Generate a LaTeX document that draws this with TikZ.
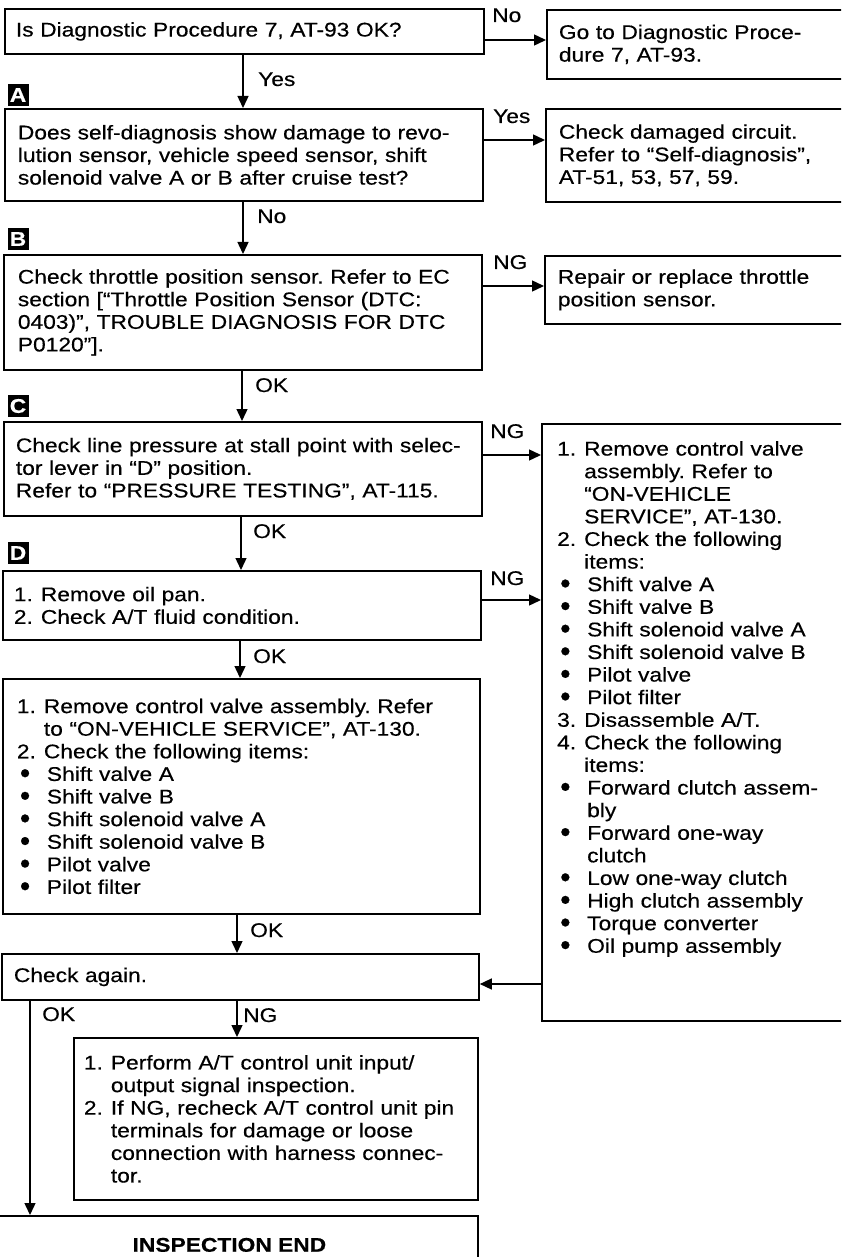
\documentclass[tikz,border=0pt]{standalone}
\usepackage{fontspec}
\usepackage{graphicx}
\setmainfont{Liberation Sans}[FakeStretch=1.15,FakeBold=0.4]
\usetikzlibrary{arrows.meta}
\frenchspacing
\newcommand\fs{\fontsize{19.8pt}{22.6pt}\selectfont}
\newcommand\lnum[1]{\makebox[27pt][l]{#1}}
\newcommand\lind{\hspace*{27pt}}
\newcommand\lbul{\makebox[30pt][l]{\hspace{3pt}\smash{\raisebox{-2.2pt}{\scalebox{1.3}[1.5]{\textbullet}}}}}
\newcommand\lbind{\hspace*{30pt}}
\begin{document}
\begin{tikzpicture}[x=1pt,y=-1pt,
  bx/.style={draw, line width=1.8pt, inner ysep=0pt, align=left, anchor=north west, font=\fs},
  arr/.style={line width=1.4pt, -{Triangle[length=12pt,width=11pt]}},
  lbl/.style={anchor=base west, inner sep=0pt, font=\fs},
  lettbox/.style={fill=black, text=white, font=\fs\bfseries, minimum width=21pt, minimum height=22pt, inner sep=0pt}]
\useasboundingbox (0,0) rectangle (841,1257);
\clip (0,0) rectangle (841,1257);
\fill[white] (0,0) rectangle (841,1257);

% left column
\node[bx, inner xsep=11pt, minimum width=479pt, minimum height=45pt, text width=457pt] (q1) at (4,8)
  {Is Diagnostic Procedure 7, AT-93 OK?};
\node[bx, inner xsep=12pt, minimum width=296pt, minimum height=69pt, text width=272pt] (r1) at (546,9)
  {Go to Diagnostic Proce-\\dure 7, AT-93.};

\node[lettbox] (mA) at (18,95) {A};
\node[bx, inner xsep=13pt, minimum width=478pt, minimum height=92pt, text width=452pt] (qA) at (4,108)
  {Does self-diagnosis show damage to revo-\\lution sensor, vehicle speed sensor, shift\\solenoid valve A or B after cruise test?};
\node[bx, inner xsep=13pt, minimum width=297pt, minimum height=93pt, text width=271pt] (rA) at (545,108)
  {Check damaged circuit.\\Refer to “Self-diagnosis”,\\AT-51, 53, 57, 59.};

\node[lettbox] (mB) at (18,239) {B};
\node[bx, inner xsep=14pt, minimum width=478pt, minimum height=115pt, text width=450pt] (qB) at (3,254)
  {Check throttle position sensor. Refer to EC\\section [“Throttle Position Sensor (DTC:\\0403)”, TROUBLE DIAGNOSIS FOR DTC\\P0120”].};
\node[bx, inner xsep=13pt, minimum width=298pt, minimum height=68pt, text width=272pt] (rB) at (544,255)
  {Repair or replace throttle\\position sensor.};

\node[lettbox] (mC) at (18,406) {C};
\node[bx, inner xsep=12pt, minimum width=478pt, minimum height=94pt, text width=454pt] (qC) at (3,421)
  {Check line pressure at stall point with selec-\\tor lever in “D” position.\\Refer to “PRESSURE TESTING”, AT-115.};

\node[bx, minimum width=301pt, minimum height=597pt] (R) at (541,423) {};
\node[anchor=north west, align=left, font=\fs, inner sep=0pt, text width=275pt] (Rt) at (557,441)
  {\lnum{1.}Remove control valve\\
   \lind assembly. Refer to\\
   \lind “ON-VEHICLE\\
   \lind SERVICE”, AT-130.\\
   \lnum{2.}Check the following\\
   \lind items:\\
   \lbul Shift valve A\\
   \lbul Shift valve B\\
   \lbul Shift solenoid valve A\\
   \lbul Shift solenoid valve B\\
   \lbul Pilot valve\\
   \lbul Pilot filter\\
   \lnum{3.}Disassemble A/T.\\
   \lnum{4.}Check the following\\
   \lind items:\\
   \lbul Forward clutch assem-\\
   \lbind bly\\
   \lbul Forward one-way\\
   \lbind clutch\\
   \lbul Low one-way clutch\\
   \lbul High clutch assembly\\
   \lbul Torque converter\\
   \lbul Oil pump assembly};

\node[lettbox] (mD) at (18,553) {D};
\node[bx, inner xsep=11pt, minimum width=478pt, minimum height=69pt, text width=456pt] (qD) at (2,570)
  {\lnum{1.}Remove oil pan.\\\lnum{2.}Check A/T fluid condition.};

\node[bx, inner xsep=14pt, minimum width=477pt, minimum height=235pt, text width=449pt] (qE) at (2,678)
  {\lnum{1.}Remove control valve assembly. Refer\\
   \lind to “ON-VEHICLE SERVICE”, AT-130.\\
   \lnum{2.}Check the following items:\\
   \lbul Shift valve A\\
   \lbul Shift valve B\\
   \lbul Shift solenoid valve A\\
   \lbul Shift solenoid valve B\\
   \lbul Pilot valve\\
   \lbul Pilot filter};

\node[bx, inner xsep=12pt, minimum width=477pt, minimum height=46pt, text width=453pt] (qF) at (1,953)
  {Check again.};

\node[bx, inner xsep=10pt, minimum width=404pt, minimum height=162pt, text width=384pt] (qG) at (73,1037)
  {\lnum{1.}Perform A/T control unit input/\\
   \lind output signal inspection.\\
   \lnum{2.}If NG, recheck A/T control unit pin\\
   \lind terminals for damage or loose\\
   \lind connection with harness connec-\\
   \lind tor.};

\node[bx, align=center, font=\fs\bfseries, minimum width=497pt, minimum height=58pt] (qEnd) at (-20,1215)
  {INSPECTION END};

% connectors
\draw[arr] (q1.east |- 0,40) -- (r1.west |- 0,40);
\node[lbl] (lNo1) at (492,22) {No};
\draw[arr] (q1.south -| 243,0) -- (qA.north -| 243,0);
\node[lbl] (lYes1) at (258,86) {Yes};

\draw[arr] (qA.east |- 0,140) -- (rA.west |- 0,140);
\node[lbl] (lYes2) at (493,123) {Yes};
\draw[arr] (qA.south -| 243,0) -- (qB.north -| 243,0);
\node[lbl] (lNo2) at (257,223) {No};

\draw[arr] (qB.east |- 0,286) -- (rB.west |- 0,286);
\node[lbl] (lNG1) at (493,269) {NG};
\draw[arr] (qB.south -| 242,0) -- (qC.north -| 242,0);
\node[lbl] (lOK1) at (255,392) {OK};

\draw[arr] (qC.east |- 0,455) -- (R.west |- 0,455);
\node[lbl] (lNG2) at (490,438) {NG};
\draw[arr] (qC.south -| 241,0) -- (qD.north -| 241,0);
\node[lbl] (lOK2) at (253,538) {OK};

\draw[arr] (qD.east |- 0,600) -- (R.west |- 0,600);
\node[lbl] (lNG3) at (490,585) {NG};
\draw[arr] (qD.south -| 240,0) -- (qE.north -| 240,0);
\node[lbl] (lOK3) at (253,663) {OK};

\draw[arr] (qE.south -| 237,0) -- (qF.north -| 237,0);
\node[lbl] (lOK4) at (250,937) {OK};

\draw[arr] (R.west |- 0,984) -- (qF.east |- 0,984);

\draw[arr] (qF.south -| 30,0) -- (qEnd.north -| 30,0);
\node[lbl] (lOK5) at (42,1021) {OK};
\draw[arr] (qF.south -| 237,0) -- (qG.north -| 237,0);
\node[lbl] (lNG4) at (243,1022) {NG};
\end{tikzpicture}
\end{document}
